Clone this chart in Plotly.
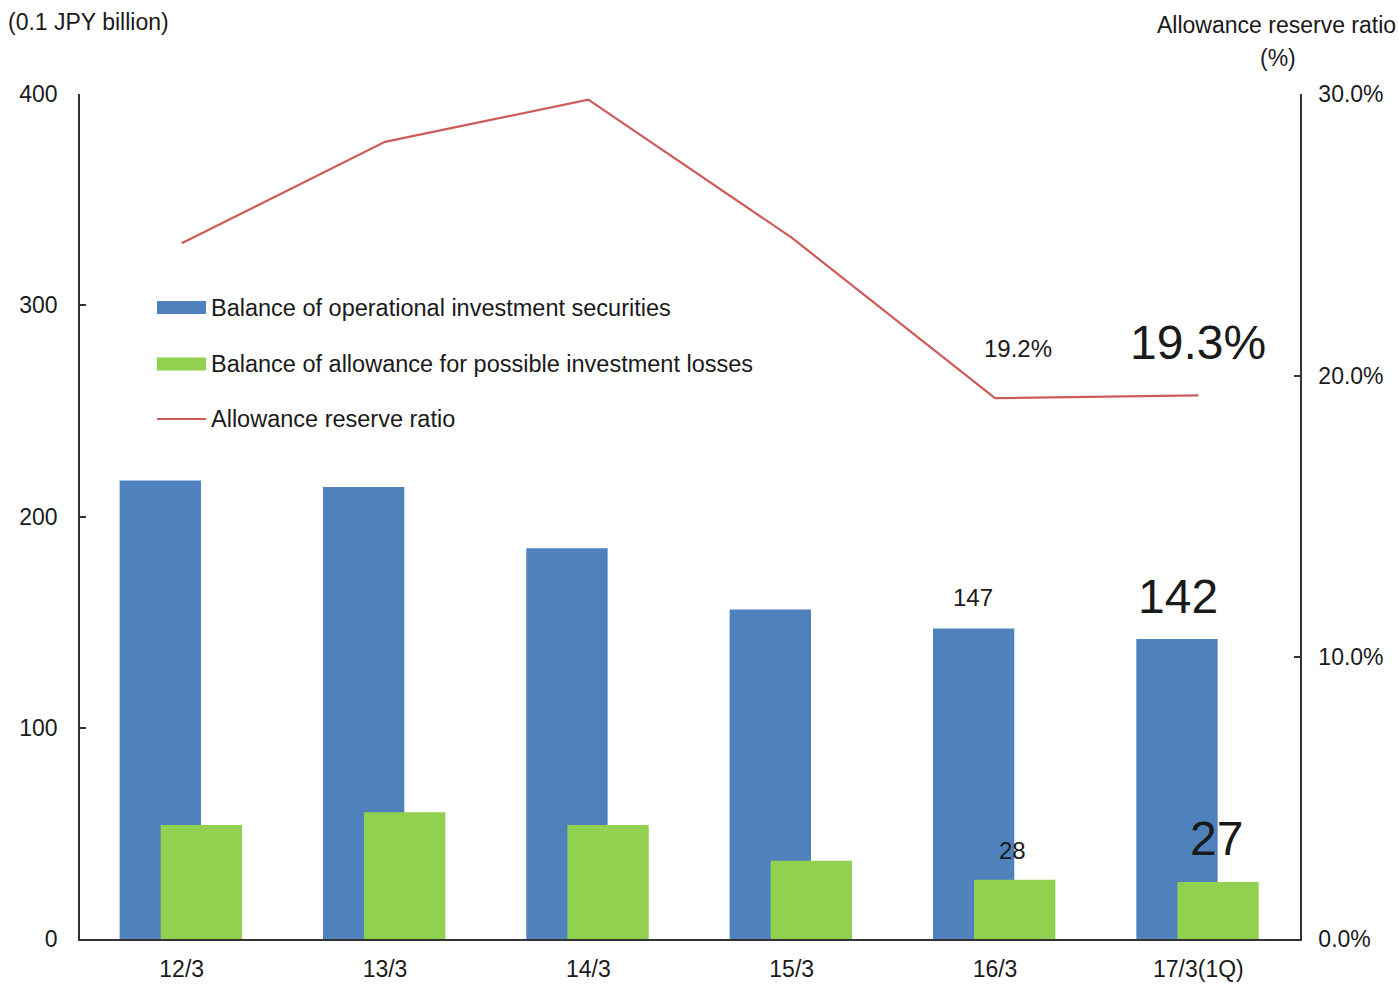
import plotly.graph_objects as go

# Fiscal periods and values (0.1 JPY billion / ratio)
periods = ["12/3", "13/3", "14/3", "15/3", "16/3", "17/3(1Q)"]
securities_balance = [217, 214, 185, 156, 147, 142]
allowance_balance = [54, 60, 54, 37, 28, 27]
reserve_ratio = [0.247, 0.283, 0.298, 0.249, 0.192, 0.193]

series_names = [
    "Balance of operational investment securities",
    "Balance of allowance for possible investment losses",
    "Allowance reserve ratio",
]

BLUE = "#4F81BD"
GREEN = "#92D050"
RED = "#CD5B5B"
FONT = "Liberation Sans, Arial, sans-serif"
TEXT = "#1a1a1a"

W, H = 1398, 984
L, R, T, B = 80, 98, 94, 45
PW = W - L - R
PH = H - T - B


def px_x(px):
    return (px - L) / PW


def px_y(py):
    return (H - B - py) / PH


fig = go.Figure()

fig.add_trace(go.Bar(
    x=periods, y=securities_balance, name=series_names[0],
    marker=dict(color=BLUE, line=dict(width=0)), offset=-0.305, width=0.4,
))
fig.add_trace(go.Bar(
    x=periods, y=allowance_balance, name=series_names[1],
    marker=dict(color=GREEN, line=dict(width=0)), offset=-0.103, width=0.4,
))
fig.add_trace(go.Scatter(
    x=periods, y=reserve_ratio, name=series_names[2], yaxis="y2",
    mode="lines", line=dict(color=RED, width=2.2),
))

annotations = [
    dict(text="(0.1 JPY billion)", x=px_x(88), y=px_y(22), xref="paper", yref="paper",
         showarrow=False, font=dict(size=23), xanchor="center", yanchor="middle"),
    dict(text="Allowance reserve ratio", x=px_x(1398), y=px_y(25), xref="paper", yref="paper",
         showarrow=False, font=dict(size=23), xanchor="right", yanchor="middle"),
    dict(text="(%)", x=px_x(1278), y=px_y(58), xref="paper", yref="paper",
         showarrow=False, font=dict(size=23), xanchor="center", yanchor="middle"),
    # value labels for the last two periods
    dict(text="147", x=periods[4], y=securities_balance[4], xshift=-22, yshift=15,
         showarrow=False, font=dict(size=24), yanchor="bottom"),
    dict(text="142", x=periods[5], y=securities_balance[5], xshift=-20, yshift=14,
         showarrow=False, font=dict(size=48), yanchor="bottom"),
    dict(text="28", x=periods[4], y=allowance_balance[4], xshift=17, yshift=14,
         showarrow=False, font=dict(size=24), yanchor="bottom"),
    dict(text="27", x=periods[5], y=allowance_balance[5], xshift=18, yshift=15,
         showarrow=False, font=dict(size=48), yanchor="bottom"),
    dict(text="19.2%", x=periods[4], y=reserve_ratio[4], yref="y2", xshift=23, yshift=34,
         showarrow=False, font=dict(size=24), yanchor="bottom"),
    dict(text="19.3%", x=periods[5], y=reserve_ratio[5], yref="y2", xshift=0, yshift=24,
         showarrow=False, font=dict(size=48), yanchor="bottom"),
]

# Legend drawn as swatches plus labels
legend_rows = [307.5, 364, 419]
shapes = [
    dict(type="rect", xref="paper", yref="paper",
         x0=px_x(157), x1=px_x(206), y0=px_y(legend_rows[0] - 6.5), y1=px_y(legend_rows[0] + 6.5),
         fillcolor=BLUE, line=dict(width=0)),
    dict(type="rect", xref="paper", yref="paper",
         x0=px_x(157), x1=px_x(206), y0=px_y(legend_rows[1] - 6.5), y1=px_y(legend_rows[1] + 6.5),
         fillcolor=GREEN, line=dict(width=0)),
    dict(type="line", xref="paper", yref="paper",
         x0=px_x(157), x1=px_x(206), y0=px_y(legend_rows[2]), y1=px_y(legend_rows[2]),
         line=dict(color=RED, width=2.2)),
]
for name, row in zip(series_names, legend_rows):
    annotations.append(dict(
        text=name, x=px_x(209), y=px_y(row), xref="paper", yref="paper",
        showarrow=False, font=dict(size=23.5), xanchor="left", yanchor="middle",
    ))

fig.update_layout(
    width=W, height=H,
    margin=dict(l=L, r=R, t=T, b=B, pad=0),
    paper_bgcolor="white", plot_bgcolor="white",
    font=dict(family=FONT, size=23, color=TEXT),
    barmode="overlay",
    showlegend=False,
    xaxis=dict(
        type="category", range=[-0.5, 5.5], showgrid=False, automargin=False,
        showline=True, linecolor="#333", linewidth=1.5,
        ticks="", tickfont=dict(size=23), ticklabelstandoff=9,
    ),
    yaxis=dict(
        range=[0, 400], dtick=100, showgrid=False, zeroline=False, automargin=False,
        showline=True, linecolor="#333", linewidth=1.5,
        ticks="inside", ticklen=6, tickcolor="#333", tickwidth=1.5,
        tickfont=dict(size=23), ticklabelstandoff=16,
    ),
    yaxis2=dict(
        range=[0, 0.30], dtick=0.10, tickformat=".1%", overlaying="y", side="right",
        showgrid=False, zeroline=False, automargin=False,
        showline=True, linecolor="#333", linewidth=1.5,
        ticks="inside", ticklen=6, tickcolor="#333", tickwidth=1.5,
        tickfont=dict(size=23), ticklabelstandoff=12,
    ),
    shapes=shapes,
    annotations=annotations,
)

fig.write_html("out.html")
